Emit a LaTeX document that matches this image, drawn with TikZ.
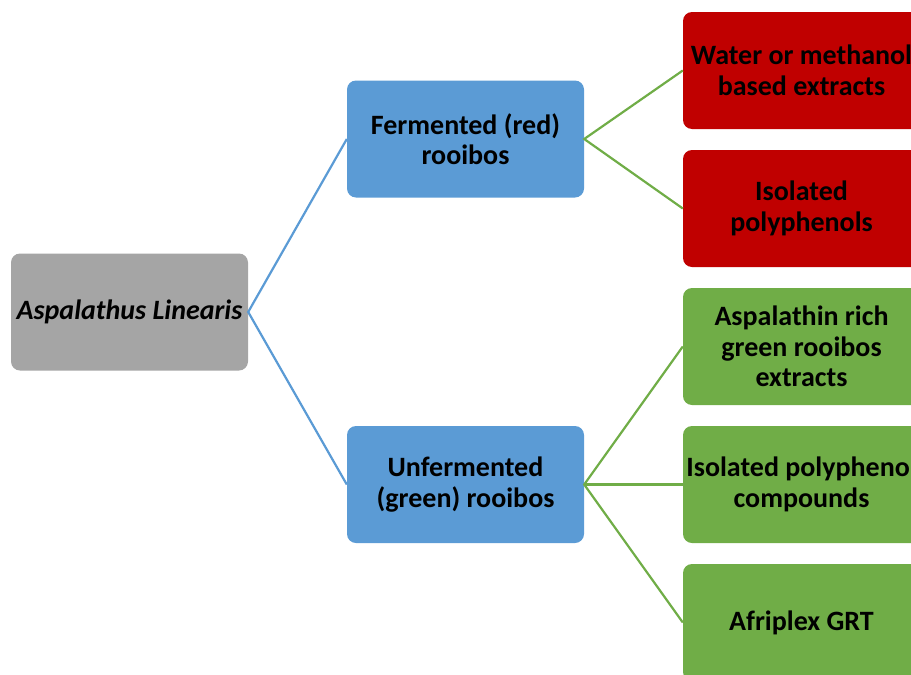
\documentclass[tikz,border=0pt]{standalone}
\usepackage{fontspec}
\setmainfont{Carlito}
\begin{document}
\begin{tikzpicture}[x=1pt,y=-1pt,
  box/.style={rounded corners=9pt, minimum width=237pt, minimum height=117pt,
    inner sep=0pt, align=center, text=black,
    font=\fontsize{28}{30.5}\selectfont\bfseries},
  rootbox/.style={box, fill=rootgray},
  midbox/.style={box, fill=midblue},
  redbox/.style={box, fill=leafred},
  greenbox/.style={box, fill=leafgreen},
  bluelink/.style={draw=midblue, line width=2.2pt},
  greenlink/.style={draw=leafgreen, line width=2.2pt}]
\definecolor{rootgray}{HTML}{A5A5A5}
\definecolor{midblue}{HTML}{5B9BD5}
\definecolor{leafred}{HTML}{C00000}
\definecolor{leafgreen}{HTML}{70AD47}
\useasboundingbox (0,0) rectangle (911,675);

% root
\node[rootbox] (root) at (129.5,312) {\itshape Aspalathus Linearis};

% processing type
\node[midbox] (ferm) at (465.5,139) {Fermented (red)\\rooibos};
\node[midbox] (unferm) at (465.5,484.5) {Unfermented\\(green) rooibos};

% products of fermented rooibos
\node[redbox] (r1) at (801.5,70.5) {Water or methanol\\based extracts};
\node[redbox] (r2) at (801.5,208.5) {Isolated\\polyphenols};

% products of unfermented rooibos
\node[greenbox] (g1) at (801.5,346.5) {Aspalathin rich\\green rooibos\\extracts};
\node[greenbox] (g2) at (801.5,484.5) {Isolated polyphenol\\compounds};
\node[greenbox] (g3) at (801.5,622.5) {Afriplex GRT};

% connectors
\draw[bluelink] (ferm.west) -- (root.east) -- (unferm.west);
\draw[greenlink] (r1.west) -- (ferm.east) -- (r2.west);
\draw[greenlink] (g1.west) -- (unferm.east) -- (g3.west);
\draw[greenlink] (unferm.east) -- (g2.west);
\end{tikzpicture}
\end{document}
